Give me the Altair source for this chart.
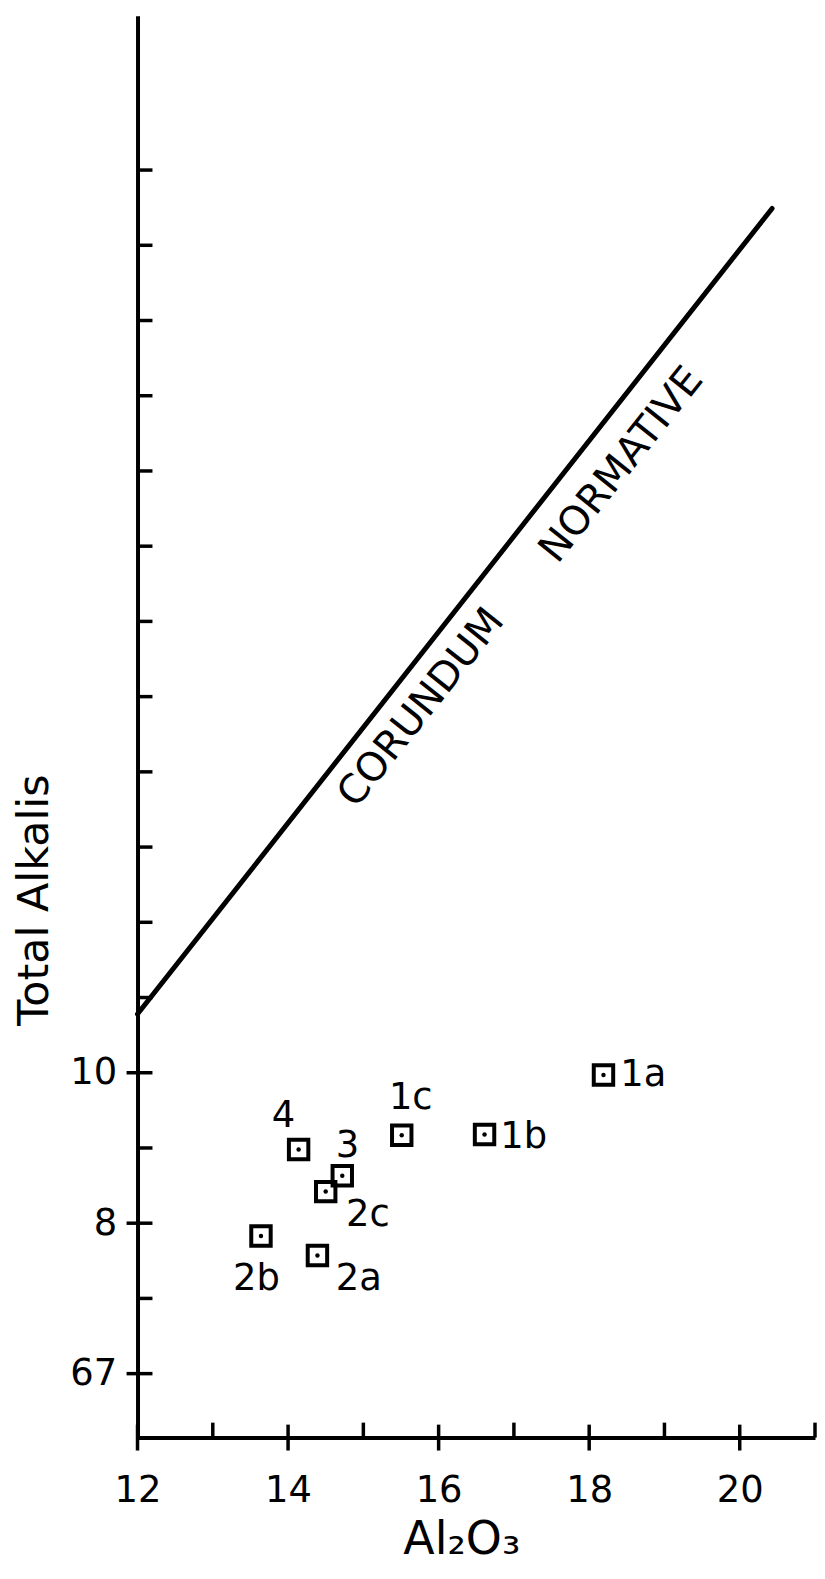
import altair as alt
import pandas as pd

# ---- data ----
samples = ["1a", "1b", "1c", "4", "3", "2c", "2b", "2a"]
al2o3 = [18.19, 16.61, 15.51, 14.14, 14.72, 14.50, 13.64, 14.39]
alkalis = [9.97, 9.18, 9.17, 8.98, 8.63, 8.42, 7.83, 7.57]
# label anchor positions (data units)
label_x = [18.72, 17.13, 15.63, 13.94, 14.79, 15.06, 13.58, 14.94]
label_y = [9.97, 9.14, 9.66, 9.43, 9.03, 8.11, 7.26, 7.26]

# corundum-normative boundary
line_x = [12.0, 20.43]
line_y = [10.78, 21.49]

region_text = ["CORUNDUM", "NORMATIVE"]
region_x = [15.77, 18.43]
region_y = [14.85, 18.08]

x_major = [12, 14, 16, 18, 20]
x_minor = [13, 15, 17, 19, 21]
y_major = [6, 8, 10]
y_major_labels = ["67", "8", "10"]
y_minor = [7, 9, 11, 12, 13, 14, 15, 16, 17, 18, 19, 20, 21, 22]

FONT = "DejaVu Sans"
W, H = 680, 1427
xs = alt.Scale(domain=[12, 21], nice=False, zero=False)
ys = alt.Scale(domain=[5.15, 24.05], nice=False, zero=False)

pts = pd.DataFrame({"s": samples, "x": al2o3, "y": alkalis})
labs = pd.DataFrame({"s": samples, "x": label_x, "y": label_y})
bnd = pd.DataFrame({"x": line_x, "y": line_y})
reg = pd.DataFrame({"t": region_text, "x": region_x, "y": region_y})

label_expr = " : ".join(
    f"datum.value == {v} ? '{t}'" for v, t in zip(y_major, y_major_labels)
) + " : ''"

x_axis = alt.Axis(
    values=x_major, ticks=False, tickSize=0, labelPadding=35,
    labelFontSize=37, labelFont=FONT, labelColor="black", labelFlush=False,
    labelOverlap=False, domainColor="black", domainWidth=4, grid=False,
    title="Al₂O₃", titleFont=FONT, titleFontSize=46, titleFontWeight="normal",
    titleColor="black", titleX=325, titleY=116, titleBaseline="alphabetic",
    titleAlign="center",
)
y_axis = alt.Axis(
    values=y_major, labelExpr=label_expr, ticks=False, tickSize=0,
    labelPadding=21, labelFontSize=37, labelFont=FONT, labelColor="black",
    labelFlush=False, labelOverlap=False, domainColor="black", domainWidth=4,
    grid=False, title="Total Alkalis", titleFont=FONT, titleFontSize=43,
    titleFontWeight="normal", titleColor="black", titleAngle=270,
    titleX=-90, titleY=887, titleBaseline="alphabetic", titleAlign="center",
)


def X(field):
    return alt.X(field, scale=xs, axis=x_axis)


def Y(field):
    return alt.Y(field, scale=ys, axis=y_axis)


squares = alt.Chart(pts).mark_point(
    shape="square", filled=False, size=380, strokeWidth=4, color="black", opacity=1
).encode(x=X("x:Q"), y=Y("y:Q"))
dots = alt.Chart(pts).mark_circle(size=20, color="black", opacity=1).encode(
    x=X("x:Q"), y=Y("y:Q")
)
texts = alt.Chart(labs).mark_text(
    font=FONT, fontSize=37, color="black", align="center", baseline="middle"
).encode(x=X("x:Q"), y=Y("y:Q"), text="s:N")
boundary = alt.Chart(bnd).mark_line(
    color="black", strokeWidth=5, strokeCap="round"
).encode(x=X("x:Q"), y=Y("y:Q"))
region = alt.Chart(reg).mark_text(
    font=FONT, fontSize=40, color="black", align="center", baseline="middle",
    angle=308.5,
).encode(x=X("x:Q"), y=Y("y:Q"), text="t:N")

# tick marks
xmaj = alt.Chart(pd.DataFrame({"v": x_major})).mark_rule(color="black", strokeWidth=3.5).encode(
    x=X("v:Q"), y=alt.value(H - 13), y2=alt.value(H + 13)
)
xmin = alt.Chart(pd.DataFrame({"v": x_minor})).mark_rule(color="black", strokeWidth=3.5).encode(
    x=X("v:Q"), y=alt.value(H - 15), y2=alt.value(H)
)
ymaj = alt.Chart(pd.DataFrame({"v": y_major})).mark_rule(color="black", strokeWidth=3.5).encode(
    y=Y("v:Q"), x=alt.value(-11), x2=alt.value(15)
)
ymin = alt.Chart(pd.DataFrame({"v": y_minor})).mark_rule(color="black", strokeWidth=3.5).encode(
    y=Y("v:Q"), x=alt.value(0), x2=alt.value(15)
)

chart = alt.layer(
    squares, dots, texts, boundary, region, xmaj, xmin, ymaj, ymin
).properties(
    width=W, height=H, autosize="none",
    padding={"left": 130, "top": 5, "right": 2, "bottom": 124},
    background="white",
).configure_view(stroke=None)

chart.save("out.html", embed_options={"renderer": "svg", "actions": False})
